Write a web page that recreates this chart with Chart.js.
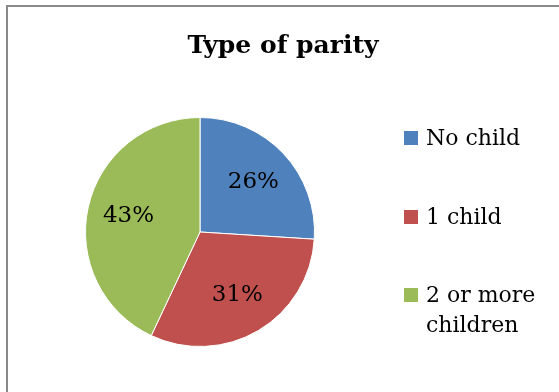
<!DOCTYPE html>
<html>
<head>
<meta charset="utf-8">
<script src="https://cdn.jsdelivr.net/npm/chart.js@4.4.1/dist/chart.umd.min.js"></script>
<style>
  html, body { margin: 0; padding: 0; background: #fff; }
  body { width: 559px; height: 392px; position: relative; overflow: hidden; font-family: "DejaVu Serif", serif; }
  #marco { position: absolute; left: 6px; top: 5px; width: 620px; height: 460px; border: 2px solid #8a8a8a; box-sizing: border-box; }
  #titulo { position: absolute; left: 7px; width: 552px; top: 30px; text-align: center; font-weight: bold; font-size: 25px; color: #000; }
  #grafico { position: absolute; left: 0; top: 0; }
  #leyenda { position: absolute; left: 404px; top: 0; width: 155px; }
  .item { position: absolute; left: 0; display: flex; align-items: flex-start; font-size: 22px; line-height: 30px; color: #000; }
  .cuadro { width: 14px; height: 14px; margin-top: 8px; margin-right: 8px; flex: none; }
  .texto { width: 125px; }
</style>
</head>
<body>
<div id="marco"></div>
<canvas id="grafico" width="559" height="392"></canvas>
<div id="titulo">Type of parity</div>
<div id="leyenda"></div>
<script>
// Datos del gráfico
const categorias = ['No child', '1 child', '2 or more children'];
const porcentajes = [26, 31, 43];
const colores = ['#4F81BD', '#C0504D', '#9BBB59'];
const posLeyenda = [123, 202, 280]; // top de cada entrada

// Leyenda en HTML a partir de los arrays
const leyenda = document.getElementById('leyenda');
categorias.forEach((cat, i) => {
  const item = document.createElement('div');
  item.className = 'item';
  item.style.top = posLeyenda[i] + 'px';
  item.innerHTML = '<span class="cuadro" style="background:' + colores[i] + '"></span><span class="texto">' + cat + '</span>';
  leyenda.appendChild(item);
});

// Plugin para dibujar los porcentajes dentro de cada porción
const etiquetas = {
  id: 'etiquetas',
  afterDatasetsDraw(chart) {
    const ctx = chart.ctx;
    const meta = chart.getDatasetMeta(0);
    ctx.save();
    ctx.font = '23px "DejaVu Serif"';
    ctx.fillStyle = '#000';
    ctx.textAlign = 'center';
    ctx.textBaseline = 'middle';
    meta.data.forEach((arc, i) => {
      const p = arc.getProps(['x', 'y', 'startAngle', 'endAngle', 'outerRadius'], true);
      const ang = (p.startAngle + p.endAngle) / 2;
      const r = p.outerRadius * 0.64;
      ctx.fillText(porcentajes[i] + '%', p.x + Math.cos(ang) * r, p.y + Math.sin(ang) * r);
    });
    ctx.restore();
  }
};

const ctx = document.getElementById('grafico').getContext('2d');
const grafico = new Chart(ctx, {
  type: 'pie',
  data: {
    labels: categorias,
    datasets: [{
      data: porcentajes,
      backgroundColor: colores,
      borderColor: '#ffffff',
      borderWidth: 1
    }]
  },
  options: {
    responsive: false,
    animation: false,
    layout: { padding: { left: 85, right: 244, top: 117, bottom: 45 } },
    plugins: {
      legend: { display: false },
      title: { display: false },
      tooltip: { enabled: false }
    }
  },
  plugins: [etiquetas]
});
</script>
</body>
</html>
